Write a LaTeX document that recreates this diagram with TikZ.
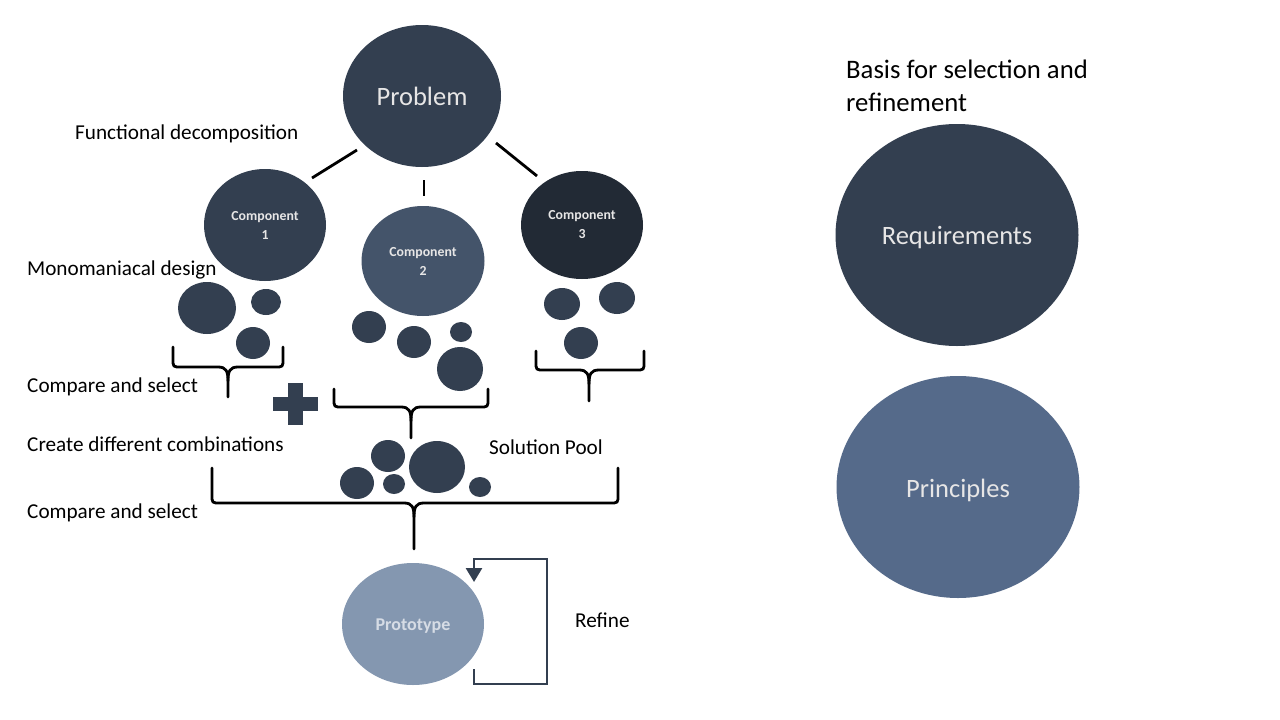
\documentclass[tikz,border=0pt]{standalone}
\usepackage{fontspec}
\setmainfont{Carlito}
\usetikzlibrary{shapes.geometric,arrows.meta}
\definecolor{dk}{HTML}{333F50}
\definecolor{mid}{HTML}{44546A}
\definecolor{dkr}{HTML}{222A35}
\definecolor{proto}{HTML}{8497B0}
\definecolor{princ}{HTML}{556A8A}
\definecolor{ltxt}{HTML}{E7E6E6}
\definecolor{ptxt}{HTML}{D6DCE5}
\newcommand\mybrace[6]{%
  \draw[bracestyle] (#1,#3) -- (#1,#4-8) .. controls (#1,#4) .. (#1+8,#4) -- (#5-10,#4) .. controls (#5-2,#4) and (#5,#4+4) .. (#5,#4+14) -- (#5,#6);
  \draw[bracestyle] (#2,#3) -- (#2,#4-8) .. controls (#2,#4) .. (#2-8,#4) -- (#5+10,#4) .. controls (#5+2,#4) and (#5,#4+4) .. (#5,#4+14);
}
\newcommand\lowertext[2]{\raisebox{-#1}[\height][\depth]{#2}}
\tikzset{
  blob/.style={ellipse, fill=dk, draw=none, inner sep=0pt, outer sep=0pt},
  bigblob/.style={blob, text=ltxt, font=\fontsize{26.5}{30}\selectfont},
  compblob/.style={blob, text=ltxt, align=center, font=\bfseries\fontsize{13.8}{19}\selectfont},
  lbl/.style={anchor=west, inner sep=0pt, font=\fontsize{21.2}{25}\selectfont},
  conn/.style={line width=2.8pt, black},
  bracestyle/.style={line width=2.8pt, black, line cap=round},
  refinearrow/.style={line width=2.6pt, draw=dk, -{Triangle[width=16pt,length=14pt]}},
}
\begin{document}
\begin{tikzpicture}[x=1pt,y=-1pt]
\useasboundingbox[fill=white] (0,0) rectangle (1280,720);

% main ellipses
\node[bigblob, minimum width=158pt, minimum height=142pt] (prob) at (422,96) {Problem};
\node[compblob, minimum width=122pt, minimum height=112pt] (comp1) at (265,225) {Component\\1};
\node[compblob, fill=mid, minimum width=123pt, minimum height=110pt] (comp2) at (423,261) {Component\\2};
\node[compblob, fill=dkr, minimum width=122pt, minimum height=108pt] (comp3) at (582,225) {Component\\3};

% connectors
\coordinate (l1a) at (312,178); \coordinate (l1b) at (357,150);
\coordinate (l2a) at (424,180); \coordinate (l2b) at (424,196);
\coordinate (l3a) at (496,143); \coordinate (l3b) at (537,176);
\draw[conn] (l1a) -- (l1b);
\draw[conn] (l2a) -- (l2b);
\draw[conn] (l3a) -- (l3b);

% component 1 variants
\node[blob, minimum width=58pt, minimum height=52pt] (c1a) at (207,308) {};
\node[blob, minimum width=30pt, minimum height=26pt] (c1b) at (266,302) {};
\node[blob, minimum width=34pt, minimum height=32pt] (c1c) at (253,343) {};
% component 2 variants
\node[blob, minimum width=34pt, minimum height=32pt] (c2a) at (369,327) {};
\node[blob, minimum width=34pt, minimum height=32pt] (c2b) at (414,342) {};
\node[blob, minimum width=22pt, minimum height=20pt] (c2c) at (461,332) {};
\node[blob, minimum width=46pt, minimum height=44pt] (c2d) at (460,369) {};
% component 3 variants
\node[blob, minimum width=36pt, minimum height=32pt] (c3a) at (562,304) {};
\node[blob, minimum width=36pt, minimum height=32pt] (c3b) at (617,298) {};
\node[blob, minimum width=34pt, minimum height=32pt] (c3c) at (581,343) {};

% braces
\mybrace{173}{283}{347}{367}{228}{397}
\mybrace{334}{488}{389}{407}{411}{438}
\mybrace{536}{644}{351}{370}{589}{401}
\mybrace{212}{618}{468}{503}{414}{549}

% plus
\fill[dk] (288,383) rectangle (303,425);
\fill[dk] (273,397) rectangle (318,411);

% solution pool
\node[blob, minimum width=34pt, minimum height=32pt] (s1) at (388,456) {};
\node[blob, minimum width=56pt, minimum height=52pt] (s2) at (437,467) {};
\node[blob, minimum width=34pt, minimum height=32pt] (s3) at (357,483) {};
\node[blob, minimum width=22pt, minimum height=20pt] (s4) at (394,484) {};
\node[blob, minimum width=22pt, minimum height=20pt] (s5) at (480,487) {};

% prototype
\node[blob, fill=proto, text=ptxt, font=\bfseries\fontsize{18}{22}\selectfont, minimum width=142pt, minimum height=122pt] (proto) at (413,624) {\lowertext{2pt}{Prototype}};
\coordinate (r0) at (474,669);
\coordinate (r1) at (547,684);
\coordinate (r2) at (474,582);
\draw[refinearrow] (r0) -- (r0 |- r1) -- (r1) -- (547,559) -- (474,559) -- (r2);

% right side
\node[bigblob, minimum width=243pt, minimum height=222pt] (req) at (957,235) {\lowertext{3pt}{Requirements}};
\node[bigblob, fill=princ, minimum width=243pt, minimum height=222pt] (pri) at (958,487) {\lowertext{3pt}{Principles}};

% labels
\node[lbl] (t1) at (75,134) {Functional decomposition};
\node[lbl] (t2) at (27,270) {Monomaniacal design};
\node[lbl] (t3) at (27,387) {Compare and select};
\node[lbl] (t4) at (27,444) {Create different combinations};
\node[lbl] (t5) at (27,513) {Compare and select};
\node[lbl] (t6) at (489,447) {Solution Pool};
\node[lbl] (t7) at (575,620) {Refine};
\node[anchor=north west, inner sep=0pt, align=left, font=\fontsize{26.7}{33}\selectfont] (t8) at (846,60) {Basis for selection and\\refinement};
\end{tikzpicture}
\end{document}
